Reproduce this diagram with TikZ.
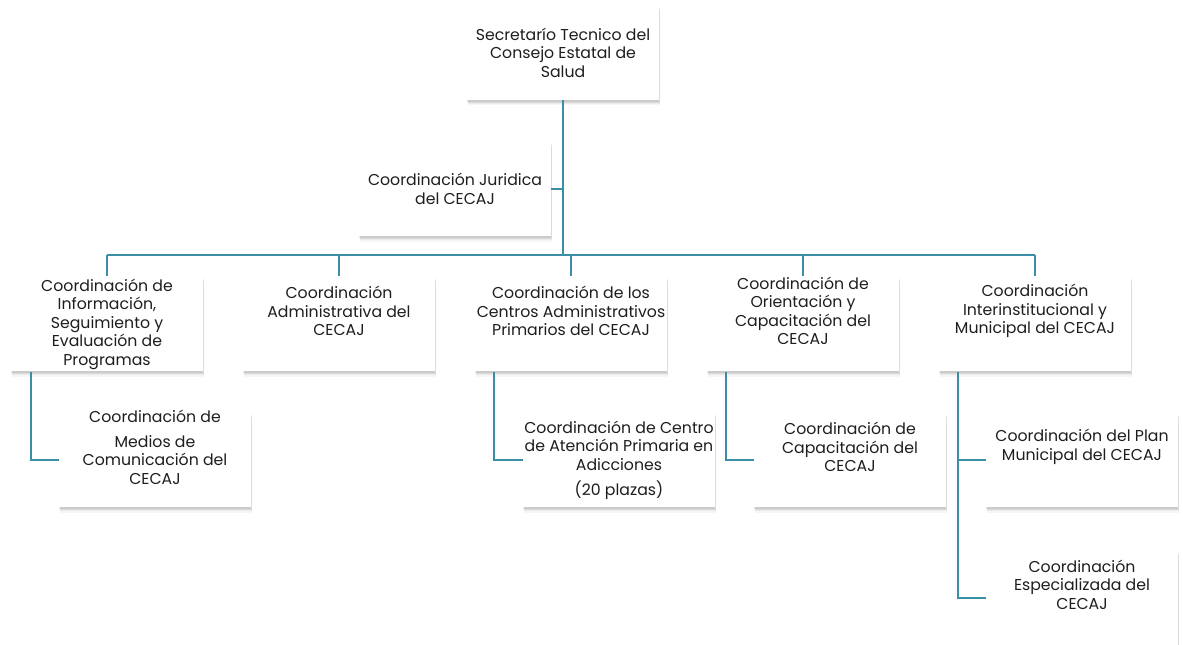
\documentclass[tikz,border=0pt]{standalone}
\usepackage{fontspec}
\setmainfont{Poppins}
\usetikzlibrary{shadows}

\definecolor{orgline}{HTML}{3A8EA5}
\definecolor{orgtext}{HTML}{1E1E1E}

\begin{document}
\begin{tikzpicture}[
        x=0.75pt, y=-0.75pt,
        box/.style={draw=none, fill=white, rectangle, minimum width=144pt, minimum height=71.25pt,
            inner sep=0pt,
            drop shadow={shadow xshift=0.4pt, shadow yshift=-3.8pt, opacity=0.07},
            drop shadow={shadow xshift=0.5pt, shadow yshift=-3.0pt, opacity=0.10},
            drop shadow={shadow xshift=0.5pt, shadow yshift=-2.2pt, opacity=0.14},
            drop shadow={shadow xshift=0.3pt, shadow yshift=-1.4pt, opacity=0.18}},
        txt/.style={align=center, text=orgtext, inner sep=0pt,
            font=\fontsize{11.8}{13.9}\selectfont},
        raised/.style={txt, yshift=9.75pt},
        trunk/.style={orgline, line width=2.2pt},
        link/.style={orgline, line width=1.5pt}
    ]
  \useasboundingbox (0,0) rectangle (1183,645);
  \coordinate (busy) at (0,255);

  %%% Connectors
  \draw[link] (455,189) -- (563,189);
  \draw[link] (107,255) -- (1035,255);

  %%% Boxes
  \node[box] (sec) at (563,52.5) {};
  \node[box] (jur) at (455,189) {};
  \node[box] (info) at (107,324) {};
  \node[box] (adm) at (339,324) {};
  \node[box] (cap) at (571,324) {};
  \node[box] (ori) at (803,324) {};
  \node[box] (inter) at (1035,324) {};
  \node[box] (med) at (155,460) {};
  \node[box] (capa) at (619,460) {};
  \node[box] (capac) at (850,460) {};
  \node[box] (plan) at (1082,460) {};
  \node[box] (esp) at (1082,597.5) {};

  % trunk and drops
  \draw[trunk] (sec.south) -- (sec.south |- busy);
  \foreach \n in {info, adm, cap, ori, inter}
    \draw[link] (\n.north |- busy) -- (\n.north);
  % side branches
  \draw[link] ([xshift=15pt]info.south west) |- (med.west);
  \draw[link] ([xshift=14.25pt]cap.south west) |- (capa.west);
  \draw[link] ([xshift=14.25pt]ori.south west) |- (capac.west);
  \draw[link] ([xshift=14.25pt]inter.south west) |- (plan.west);
  \draw[link] ([xshift=14.25pt]inter.south west) |- (esp.west);

  %%% Texts
  \node[txt] (secT) at (sec) {Secretarío Tecnico del\\Consejo Estatal de\\Salud};
  \node[txt] (jurT) at (jur) {Coordinación Juridica\\del CECAJ};
  \node[txt] (infoT) at (info) {Coordinación de\\Información,\\Seguimiento y\\Evaluación de\\Programas};
  \node[raised] (admT) at (adm) {Coordinación\\Administrativa del\\CECAJ};
  \node[raised] (capT) at (cap) {Coordinación de los\\Centros Administrativos\\Primarios del CECAJ};
  \node[raised] (oriT) at (ori) {Coordinación de\\Orientación y\\Capacitación del\\CECAJ};
  \node[raised] (interT) at (inter) {Coordinación\\Interinstitucional y\\Municipal del CECAJ};
  \node[raised] (medT) at (med) {Coordinación de\\[5pt]Medios de\\Comunicación del\\CECAJ};
  \node[txt] (capaT) at (capa) {Coordinación de Centro\\de Atención Primaria en\\Adicciones\\[5pt](20 plazas)};
  \node[raised] (capacT) at (capac) {Coordinación de\\Capacitación del\\CECAJ};
  \node[raised] (planT) at (plan) {Coordinación del Plan\\Municipal del CECAJ};
  \node[raised] (espT) at (esp) {Coordinación\\Especializada del\\CECAJ};
\end{tikzpicture}
\end{document}
